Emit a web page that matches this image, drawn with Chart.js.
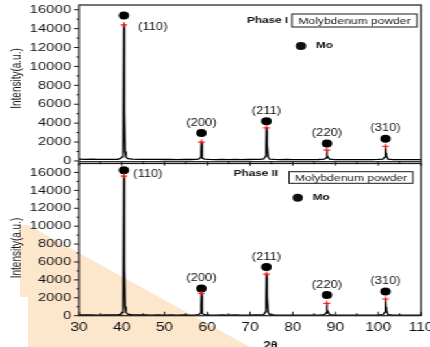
<!DOCTYPE html>
<html>
<head>
<meta charset="utf-8">
<script src="https://cdn.jsdelivr.net/npm/chart.js@4.4.1/dist/chart.umd.min.js"></script>
<style>
  html, body { margin: 0; padding: 0; background: #fff; overflow: hidden; }
  #page { position: relative; width: 430px; height: 347px; overflow: hidden; }
  /* pale stamp behind the lower panel */
  #stamp { position: absolute; left: 0; top: 0; width: 430px; height: 347px; background: #fce6cc;
    clip-path: polygon(20px 225px, 28px 225px, 250px 347px, 28px 347px, 28px 297px, 20px 297px); }
  /* the figure is drawn narrow and widened, like the scanned original */
  #wide { position: absolute; left: 0; top: 0; width: 331px; height: 347px;
    transform: scaleX(1.2991); transform-origin: 0 0; }
  #wide canvas { position: absolute; left: 0; top: 0; }
</style>
</head>
<body>
<div id="page">
  <div id="stamp"></div>
  <div id="wide">
    <canvas id="upper" width="331" height="347"></canvas>
    <canvas id="lower" width="331" height="347"></canvas>
  </div>
</div>
<script>
// 2-theta positions of the scan points (shared by both phases)
const twoTheta = [
  30, 31.5, 33, 34.5, 36, 37.5, 39,
  39.6, 40.1, 40.35, 40.5, 40.62, 40.8, 41.0, 41.4,
  42.5, 44, 45.5, 47, 48.5, 50, 51.5, 53, 54.5, 56, 57.2,
  58.0, 58.4, 58.55, 58.65, 58.75, 58.9, 59.3,
  60.5, 62, 63.5, 65, 66.5, 68, 69.5, 71, 72.3,
  73.2, 73.6, 73.75, 73.85, 73.95, 74.05, 74.25, 74.6,
  75.8, 77, 78.5, 80, 81.5, 83, 84.5, 86,
  87.4, 87.8, 87.92, 88.0, 88.1, 88.25, 88.6,
  89.8, 91, 92.5, 94, 95.5, 97, 98.5, 100,
  101.1, 101.5, 101.62, 101.7, 101.8, 101.95, 102.3,
  103.5, 105, 106.5, 108, 109.5, 110
];

// intensity, Phase I
const phaseOne = [
  190, 170, 185, 160, 175, 165, 180,
  240, 420, 1600, 14400, 5200, 1000, 420, 250,
  190, 165, 175, 160, 170, 155, 165, 150, 165, 155, 170,
  200, 350, 900, 2000, 780, 300, 190,
  160, 150, 165, 150, 160, 145, 155, 160, 175,
  210, 480, 1500, 3500, 1450, 1650, 380, 200,
  160, 150, 155, 145, 150, 140, 150, 155,
  190, 320, 600, 1150, 560, 420, 180,
  145, 150, 140, 150, 140, 145, 150, 160,
  190, 400, 800, 1550, 820, 560, 200,
  150, 140, 150, 140, 145, 150
];

// intensity, Phase II
const phaseTwo = [
  90, 80, 95, 75, 85, 80, 95,
  140, 350, 1700, 15600, 5600, 1000, 380, 170,
  100, 80, 90, 75, 85, 70, 80, 70, 85, 75, 90,
  110, 280, 1100, 2500, 950, 250, 110,
  80, 70, 85, 75, 80, 70, 75, 80, 90,
  130, 420, 1800, 4650, 1900, 2100, 350, 120,
  80, 70, 75, 65, 70, 65, 70, 75,
  110, 300, 650, 1380, 650, 480, 110,
  70, 75, 65, 70, 65, 70, 75, 80,
  110, 380, 900, 1860, 950, 650, 120,
  70, 65, 70, 65, 70, 75
];

// indexed Mo reflections
const hkl = ['(110)', '(200)', '(211)', '(220)', '(310)'];
const peakPos = [40.5, 58.65, 73.85, 88.0, 101.7];
const peakOne = [14400, 2000, 3500, 1150, 1550];
const peakTwo = [15600, 2500, 4650, 1380, 1860];
const dotOne = [15400, 2950, 4200, 1850, 2350];
const dotTwo = [16250, 3050, 5450, 2300, 2700];

// axis tick labels
const xTicks = [30, 40, 50, 60, 70, 80, 90, 100, 110];
const yTicks = [0, 2000, 4000, 6000, 8000, 10000, 12000, 14000, 16000];

const FONT = "'Liberation Sans', Arial, Helvetica, sans-serif";
Chart.defaults.font.family = FONT;
Chart.defaults.color = '#111';

function line(ctx, x1, y1, x2, y2) {
  ctx.beginPath();
  ctx.moveTo(x1, y1);
  ctx.lineTo(x2, y2);
  ctx.stroke();
}

// frame, tick marks, peak labels and the little legend
function decor(o) {
  return {
    id: 'decor',
    afterDraw(chart) {
      const { ctx, chartArea: a, scales: { x, y } } = chart;
      ctx.save();
      ctx.strokeStyle = '#1a1a1a';
      ctx.lineWidth = 1.2;
      ctx.strokeRect(a.left, a.top, a.right - a.left, a.bottom - a.top);

      ctx.lineWidth = 1;
      for (let v = 0; v <= 16000; v += 1000) {
        const py = y.getPixelForValue(v);
        line(ctx, a.left - (v % 2000 ? 2 : 3.8), py, a.left, py);
      }
      for (let t = 30; t <= 110; t += 5) {
        const px = x.getPixelForValue(t);
        const len = t % 10 ? 2.5 : 4;
        line(ctx, px, a.bottom, px, o.ticksDown ? a.bottom + len : a.bottom - len);
      }

      ctx.fillStyle = '#111';
      ctx.font = `10px ${FONT}`;
      ctx.textAlign = 'center';
      ctx.textBaseline = 'middle';
      hkl.forEach((lbl, i) => {
        const px = x.getPixelForValue(peakPos[i]);
        const py = y.getPixelForValue(o.dots[i]);
        if (i === 0) ctx.fillText(lbl, px + o.firstDx, py + o.firstDy);
        else ctx.fillText(lbl, px, py - 10);
      });

      // phase name and sample box
      ctx.font = `bold 9px ${FONT}`;
      ctx.textAlign = 'right';
      ctx.fillText(o.phase, o.phaseRight, o.phaseY);
      const b = o.box;
      ctx.strokeRect(b.x, b.y, b.w, b.h);
      ctx.font = `9.3px ${FONT}`;
      ctx.textAlign = 'center';
      ctx.fillText('Molybdenum powder', b.x + b.w / 2, b.y + b.h / 2 + 0.5);

      // legend: Mo marker
      ctx.beginPath();
      ctx.arc(o.key.x, o.key.y, 4, 0, Math.PI * 2);
      ctx.fill();
      ctx.font = `bold 9px ${FONT}`;
      ctx.textAlign = 'left';
      ctx.fillText('Mo', o.key.x + 11.5, o.key.y);

      // y axis title
      ctx.save();
      ctx.translate(13.5, o.titleY);
      ctx.rotate(-Math.PI / 2);
      ctx.font = `10px ${FONT}`;
      ctx.textAlign = 'center';
      ctx.fillText('Intensity(a.u.)', 0, 0);
      ctx.restore();

      if (o.xTitle) {
        ctx.font = `bold 10px ${FONT}`;
        ctx.textAlign = 'center';
        ctx.textBaseline = 'top';
        ctx.fillText('2θ', a.left + (a.right - a.left) * 0.56, a.bottom + 26);
      }
      ctx.restore();
    }
  };
}

function panel(id, o) {
  return new Chart(document.getElementById(id), {
    type: 'line',
    data: {
      datasets: [
        {
          data: twoTheta.map((t, i) => ({ x: t, y: o.counts[i] })),
          borderColor: '#000',
          borderWidth: 1.3,
          pointRadius: 0,
          tension: 0,
          order: 3
        },
        {
          type: 'scatter',
          data: peakPos.map((t, i) => ({ x: t, y: o.peaks[i] })),
          pointStyle: 'cross',
          pointRadius: 2.6,
          borderColor: '#ff0000',
          borderWidth: 1,
          order: 1
        },
        {
          type: 'scatter',
          data: peakPos.map((t, i) => ({ x: t, y: o.dots[i] })),
          pointStyle: 'circle',
          pointRadius: 4,
          backgroundColor: '#000',
          borderWidth: 0,
          order: 2
        }
      ]
    },
    options: {
      responsive: false,
      animation: false,
      devicePixelRatio: 1,
      layout: { padding: o.padding },
      plugins: { legend: { display: false }, tooltip: { enabled: false } },
      scales: {
        x: {
          type: 'linear',
          min: 30,
          max: 110,
          display: o.xTitle,
          grid: { display: false, drawTicks: false },
          border: { display: false },
          ticks: { padding: 5, font: { size: 12 }, maxRotation: 0, autoSkip: false, callback: v => String(v) },
          afterBuildTicks: s => { s.ticks = xTicks.map(v => ({ value: v })); },
          afterFit: s => { s.height = o.xTitle ? 31.3 : 0; s.paddingLeft = 0; s.paddingRight = 0; }
        },
        y: {
          min: o.yMin,
          max: o.yMax,
          grid: { display: false, drawTicks: false },
          border: { display: false },
          ticks: { padding: 6, font: { size: 11.5 }, autoSkip: false, callback: v => String(v) },
          afterBuildTicks: s => { s.ticks = yTicks.map(v => ({ value: v })); },
          afterFit: s => { s.width = 60.8; s.paddingTop = 0; s.paddingBottom = 0; }
        }
      }
    },
    plugins: [decor(o)]
  });
}

panel('upper', {
  counts: phaseOne, peaks: peakOne, dots: dotOne,
  yMin: -80, yMax: 16500,
  padding: { top: 2.7, bottom: 185.3, left: 0, right: 6.93 },
  ticksDown: true, xTitle: false,
  phase: 'Phase I', phaseRight: 221.7, phaseY: 21,
  box: { x: 224.8, y: 14, w: 96.2, h: 13 },
  key: { x: 231.7, y: 46 },
  titleY: 78.5, firstDx: 22.3, firstDy: 11.7
});

panel('lower', {
  counts: phaseTwo, peaks: peakTwo, dots: dotTwo,
  yMin: 0, yMax: 17000,
  padding: { top: 163.5, bottom: 0, left: 0, right: 6.93 },
  ticksDown: false, xTitle: true,
  phase: 'Phase II', phaseRight: 214, phaseY: 174,
  box: { x: 222.5, y: 171.7, w: 95.4, h: 11.6 },
  key: { x: 229.2, y: 197.7 },
  titleY: 248, firstDx: 18.5, firstDy: 4.3
});
</script>
</body>
</html>
